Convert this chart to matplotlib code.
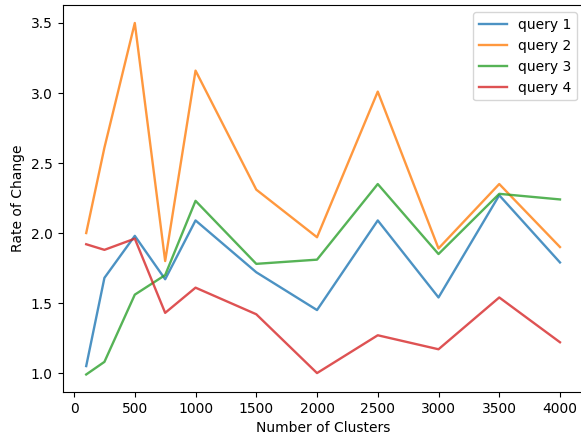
import matplotlib
matplotlib.use("Agg")
import matplotlib.pyplot as plt

clusters = [100, 250, 500, 750, 1000, 1500, 2000, 2500, 3000, 3500, 4000]

query1 = [1.05, 1.68, 1.98, 1.67, 2.09, 1.72, 1.45, 2.09, 1.54, 2.27, 1.79]
query2 = [2.00, 2.61, 3.50, 1.80, 3.16, 2.31, 1.97, 3.01, 1.89, 2.35, 1.90]
query3 = [0.99, 1.08, 1.56, 1.70, 2.23, 1.78, 1.81, 2.35, 1.85, 2.28, 2.24]
query4 = [1.92, 1.88, 1.96, 1.43, 1.61, 1.42, 1.00, 1.27, 1.17, 1.54, 1.22]

labels = ["query 1", "query 2", "query 3", "query 4"]

plt.rcParams["font.size"] = 10

fig = plt.figure(figsize=(5.81, 4.41), dpi=100)
# axes runs slightly past the right edge, like the cropped original
ax = fig.add_axes([0.1076, 0.111, 0.897, 0.8767])

for series, name in zip([query1, query2, query3, query4], labels):
    ax.plot(clusters, series, label=name, alpha=0.8, linewidth=1.7)

ax.set_xlabel("Number of Clusters")
ax.set_ylabel("Rate of Change")
ax.set_xticks([0, 500, 1000, 1500, 2000, 2500, 3000, 3500, 4000])
ax.legend(loc="upper right")

fig.savefig("out.png", dpi=100)
